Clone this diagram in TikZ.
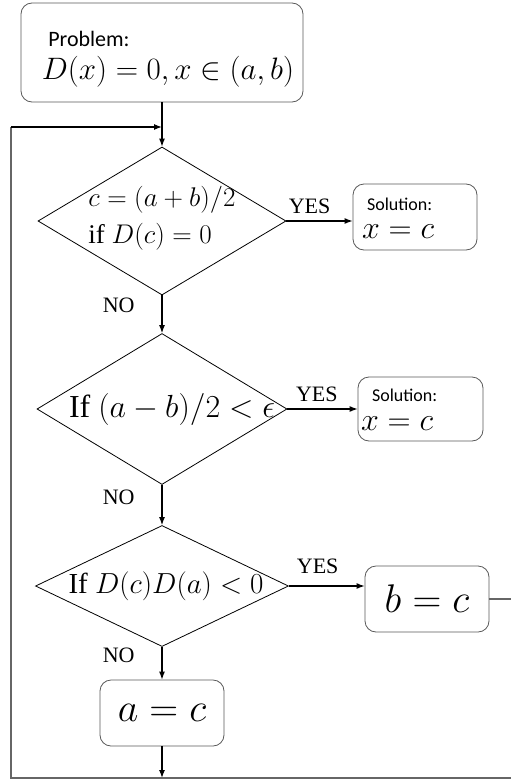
\RequirePackage{fix-cm}
\documentclass[tikz,border=0pt]{standalone}
\usepackage[no-math]{fontspec}
\setmainfont{Liberation Serif}
\newfontfamily\labelfont{Carlito}
\usepackage{tikz}
\usetikzlibrary{positioning, shapes.geometric, arrows.meta}
\tikzset{every picture/.style={line width=0.75pt}}

\begin{document}
\begin{tikzpicture}[-{Latex[length=8pt,width=6pt]},line width=1.2pt,
    every node/.style={line width=0.8pt},
    box/.style={draw=black!65, rounded corners=11pt, inner sep=0pt},
    decision/.style={draw, diamond, inner sep=0pt},
    answer/.style={font=\labelfont\fontsize{18}{20}\selectfont, inner sep=1pt},
    yesno/.style={font=\fontsize{22}{24}\selectfont, inner sep=0pt},
    yes/.style={yesno, above=7pt},
    no/.style={yesno, left=27pt}]
        \useasboundingbox (0,0) rectangle (511pt,-784pt);
        \node[box, minimum width=282pt, minimum height=99pt] (prob) at (162pt,-52.5pt) {};
        \node[font=\labelfont\fontsize{22}{24}\selectfont, anchor=west] at ([xshift=24pt,yshift=14pt]prob.west) {Problem:};
        \node[font=\fontsize{31}{33}\selectfont] at ([xshift=6pt,yshift=-19pt]prob.center) {$D(x)=0, x\in(a,b)$};
        \node[decision, below of=prob, node distance=168.5pt, minimum width=248pt, minimum height=148pt] (d1) {};
        \node[font=\fontsize{27}{37}\selectfont, align=left] at ([xshift=0pt,yshift=3pt]d1.center) {$c=(a+b)/2$\\if $D(c)=0$};
        \node[box, right of=d1, node distance=253pt, yshift=4pt, minimum width=124pt, minimum height=66pt] (sol1) {};
        \node[answer, anchor=west] at ([xshift=13pt,yshift=13pt]sol1.west) {Solution:};
        \node[font=\fontsize{32}{34}\selectfont, anchor=west, inner sep=1pt] at ([xshift=8pt,yshift=-15pt]sol1.west) {$x=c$};
        \node[decision, below of=d1, node distance=188pt, minimum width=250pt, minimum height=151pt] (d2) {};
        \node[font=\fontsize{32}{34}\selectfont] at ([xshift=10pt]d2.center) {If $(a-b)/2<\epsilon$};
        \node[box, right of=d2, node distance=258.5pt, minimum width=125pt, minimum height=64pt] (sol2) {};
        \node[answer, anchor=west] at ([xshift=13pt,yshift=14pt]sol2.west) {Solution:};
        \node[font=\fontsize{32}{34}\selectfont, anchor=west, inner sep=1pt] at ([xshift=2pt,yshift=-15pt]sol2.west) {$x=c$};
        \node[decision, below of=d2, node distance=177pt, minimum width=253pt, minimum height=121pt] (d3) {};
        \node[font=\fontsize{29}{31}\selectfont] at ([xshift=4pt]d3.center) {If $D(c)D(a)<0$};
        \node[box, right of=d3, node distance=265pt, yshift=-13pt, minimum width=124pt, minimum height=66pt, font=\fontsize{40}{42}\selectfont] (bc) {$b=c$};
        \node[box, below of=d3, node distance=127pt, minimum width=124pt, minimum height=66pt, font=\fontsize{40}{42}\selectfont] (ac) {$a=c$};
        % loop back
        \coordinate (tl) at (11pt,-127pt);
        \coordinate (bl) at (11pt,-778pt);
        \coordinate (br) at (511pt,-778pt);
        \draw (prob.south) -- (d1.north);
        \draw[-, draw=black!60] (br) -- (bl) -- (tl);
        \draw (tl) -- (tl -| prob.south);
        \draw (d1.east) -- node[yes, pos=0.35] {YES} (d1.east -| sol1.west);
        \draw (d1.south) -- node[no, pos=0.26] {NO} (d2.north);
        \draw (d2.east) -- node[yes, pos=0.42] {YES} (d2.east -| sol2.west);
        \draw (d2.south) -- node[no, pos=0.32] {NO} (d3.north);
        \draw (d3.east) -- node[yes, pos=0.38, yshift=5pt] {YES} (d3.east -| bc.west);
        \draw (d3.south) -- node[no, pos=0.27] {NO} (ac.north);
        \draw (ac.south) -- (ac.south |- bl);
        \draw[-, draw=black!60] (bc.east) -- (bc.east -| br);
    \end{tikzpicture}
\end{document}
